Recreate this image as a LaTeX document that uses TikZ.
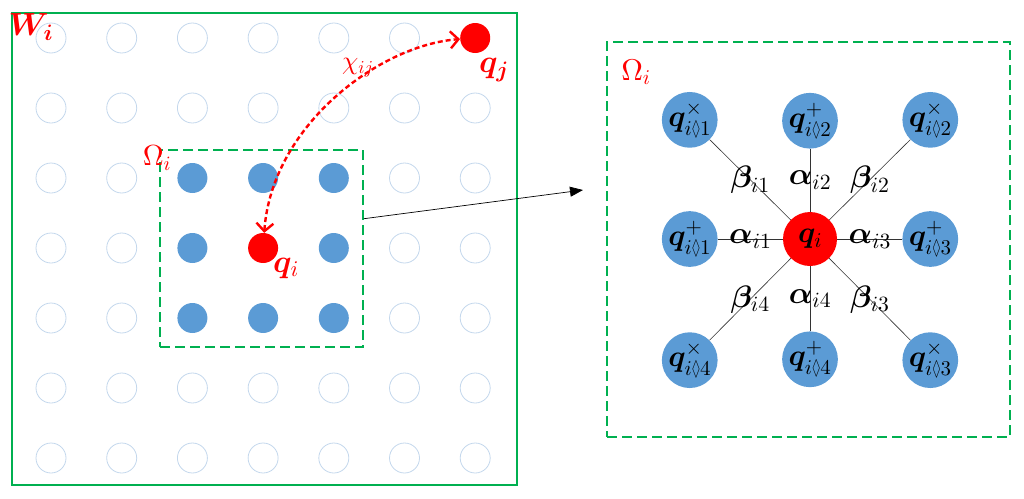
\documentclass[tikz,border=0pt]{standalone}
\usepackage{amsmath,amssymb,bm}
\usetikzlibrary{positioning,arrows.meta,calc}

% scalable math fonts
\DeclareFontShape{OML}{cmm}{m}{it}{<->cmmi10}{}
\DeclareFontShape{OML}{cmm}{b}{it}{<->cmmib10}{}
\DeclareFontShape{OT1}{cmr}{m}{n}{<->cmr10}{}
\DeclareFontShape{OT1}{cmr}{bx}{n}{<->cmbx10}{}
\DeclareFontShape{OMS}{cmsy}{m}{n}{<->cmsy10}{}
\DeclareFontShape{OMS}{cmsy}{b}{n}{<->cmbsy10}{}
\DeclareFontFamily{U}{msa}{}
\DeclareFontShape{U}{msa}{m}{n}{<->msam10}{}

\definecolor{mygreen}{HTML}{00B050}
\definecolor{myblue}{HTML}{5B9BD5}
\definecolor{paleblue}{HTML}{C3D7EC}
\newcommand\lz{\mathord{\scalebox{0.6}[1]{$\scriptstyle\lozenge$}}}

\begin{document}
\begin{tikzpicture}[
  x=1pt, y=-1pt,
  >={Straight Barb[length=8pt,width=17pt]},
  grid/.style={circle, draw=paleblue, line width=0.8pt, minimum size=30pt, inner sep=0pt},
  full/.style={circle, fill=myblue, minimum size=30pt, inner sep=0pt},
  hot/.style={circle, fill=red, minimum size=30pt, inner sep=0pt},
  frame/.style={draw=mygreen, line width=1.5pt, inner sep=0pt},
  zone/.style={draw=mygreen, line width=1.5pt, dash pattern=on 10pt off 5pt, inner sep=0pt},
  nb/.style={circle, fill=myblue, minimum size=54pt, inner sep=0pt, font=\fontsize{30}{32}\selectfont},
  lab/.style={inner sep=0pt, font=\fontsize{31}{33}\selectfont},
  tag/.style={inner sep=0pt, text=red, font=\fontsize{32}{34}\selectfont},
  spoke/.style={draw=black!80, line width=0.6pt},
  chi/.style={draw=red, line width=2.4pt, dash pattern=on 5pt off 3pt}
]
  \useasboundingbox (0,0) rectangle (1024,498);

  % left window
  \node[frame, minimum width=505pt, minimum height=472pt] (wf) at (264.5,249) {};
  \foreach \i in {0,...,6}
    \foreach \j in {0,...,6}{
      \pgfmathtruncatemacro\hide{((\i>1 && \i<5 && \j>1 && \j<5) || (\i==6 && \j==0)) ? 1 : 0}
      \ifnum\hide=0
        \node[grid] (g\i\j) at ({51+70.7*\i},{38+70*\j}) {};
      \fi
    }
  \foreach \i/\j in {2/2,3/2,4/2,2/3,4/3,2/4,3/4,4/4}
    \node[full] (f\i\j) at ({51+70.7*\i},{38+70*\j}) {};
  \node[hot] (qj) at ({51+70.7*6},38) {};
  \node[hot] (qi) at ({51+70.7*3},248) {};
  \node[zone, minimum width=203pt, minimum height=197pt] (om) at (261.5,248.5) {};

  \node[tag] (wl) at (31,27) {$\bm{W}_{\bm{i}}$};
  \node[tag, font=\fontsize{29}{31}\selectfont] (ol) at (157,158) {$\Omega_i$};
  \node[tag] (ql) at (494,70) {$\bm{q}_{\bm{j}}$};
  \node[tag] (il) at (286,268) {$\bm{q}_{i}$};
  \node[tag, font=\fontsize{26}{28}\selectfont] (xl) at (358,68) {$\chi_{ij}$};
  \draw[chi, <->] (qi) .. controls (272,125) and (380,45) .. (qj);

  % zoomed neighbourhood
  \coordinate (tip) at (583,190);
  \draw[-{Triangle[length=13pt,width=10pt]}, line width=0.7pt]
    ($(om.north east)!0.35!(om.south east)$) -- (tip);
  \node[zone, minimum width=403pt, minimum height=395pt] (pn) at (808.5,239.5) {};
  \node[tag, font=\fontsize{30}{32}\selectfont] (pl) at (636,72) {$\Omega_i$};

  \node[nb, fill=red] (c) at (810,239) {$\bm{q}_i$};
  \node[nb, left=65pt of c] (a1) {$\bm{q}^{+}_{i\lz1}$};
  \node[nb, above=63pt of c] (a2) {$\bm{q}^{+}_{i\lz2}$};
  \node[nb, right=65pt of c] (a3) {$\bm{q}^{+}_{i\lz3}$};
  \node[nb, below=65pt of c] (a4) {$\bm{q}^{+}_{i\lz4}$};
  \node[nb, above=63pt of a1] (b1) {$\bm{q}^{\times}_{i\lz1}$};
  \node[nb, above=63pt of a3] (b2) {$\bm{q}^{\times}_{i\lz2}$};
  \node[nb, below=65pt of a3] (b3) {$\bm{q}^{\times}_{i\lz3}$};
  \node[nb, below=65pt of a1] (b4) {$\bm{q}^{\times}_{i\lz4}$};

  \draw[spoke] (c) -- node[lab] {$\bm{\alpha}_{i1}$} (a1);
  \draw[spoke] (c) -- node[lab] {$\bm{\alpha}_{i2}$} (a2);
  \draw[spoke] (c) -- node[lab] {$\bm{\alpha}_{i3}$} (a3);
  \draw[spoke] (c) -- node[lab] {$\bm{\alpha}_{i4}$} (a4);
  \draw[spoke] (c) -- node[lab] {$\bm{\beta}_{i1}$} (b1);
  \draw[spoke] (c) -- node[lab] {$\bm{\beta}_{i2}$} (b2);
  \draw[spoke] (c) -- node[lab] {$\bm{\beta}_{i3}$} (b3);
  \draw[spoke] (c) -- node[lab] {$\bm{\beta}_{i4}$} (b4);
\end{tikzpicture}
\end{document}
